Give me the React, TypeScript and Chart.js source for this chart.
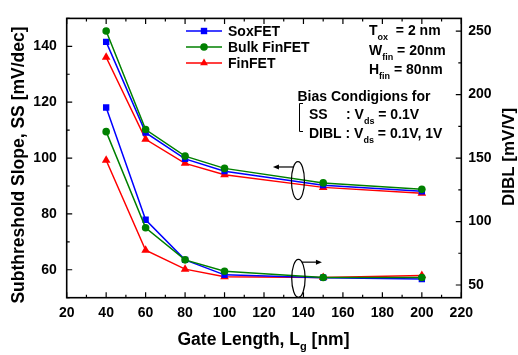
import React, { useEffect, useRef } from "react";
import { Chart, registerables } from "chart.js";

Chart.register(...registerables);

const gateLength = [40, 60, 80, 100, 150, 200];
const ssSoxFET = [141.6, 109.1, 99.7, 95.3, 90.3, 88.1];
const ssBulkFinFET = [145.5, 110.2, 100.7, 96.3, 91.1, 88.8];
const ssFinFET = [136.1, 106.7, 98.1, 94.0, 89.5, 87.4];
const diblSoxFET = [189.8, 101.4, 69.8, 58.0, 55.8, 54.7];
const diblBulkFinFET = [170.8, 95.1, 69.8, 60.8, 55.9, 55.9];
const diblFinFET = [148.3, 77.4, 62.5, 56.5, 55.9, 57.5];

const xTicks = [20, 40, 60, 80, 100, 120, 140, 160, 180, 200, 220];
const ssTicks = [60, 80, 100, 120, 140];
const diblTicks = [50, 100, 150, 200, 250];

const FONT = '"Liberation Sans", Arial, Helvetica, sans-serif';
const BLUE = "#0000ff";
const GREEN = "#008000";
const RED = "#ff0000";

type Part = { t: string; sub?: boolean };

function drawRich(ctx: CanvasRenderingContext2D, x: number, y: number, parts: Part[], size: number, subSize: number, subDrop: number) {
  let cx = x;
  ctx.textAlign = "left";
  ctx.textBaseline = "alphabetic";
  for (const p of parts) {
    ctx.font = `bold ${p.sub ? subSize : size}px ${FONT}`;
    ctx.fillText(p.t, cx, p.sub ? y + subDrop : y);
    cx += ctx.measureText(p.t).width;
  }
  return cx;
}

function measureRich(ctx: CanvasRenderingContext2D, parts: Part[], size: number, subSize: number) {
  let w = 0;
  for (const p of parts) {
    ctx.font = `bold ${p.sub ? subSize : size}px ${FONT}`;
    w += ctx.measureText(p.t).width;
  }
  return w;
}

function drawMarker(ctx: CanvasRenderingContext2D, style: string, x: number, y: number, color: string) {
  ctx.fillStyle = color;
  ctx.beginPath();
  if (style === "rect") {
    const s = 3.2;
    ctx.rect(x - s, y - s, 2 * s, 2 * s);
  } else if (style === "circle") {
    ctx.arc(x, y, 3.8, 0, Math.PI * 2);
  } else {
    const r = 4.5;
    ctx.moveTo(x, y - r);
    ctx.lineTo(x + r * 0.866, y + r * 0.5);
    ctx.lineTo(x - r * 0.866, y + r * 0.5);
    ctx.closePath();
  }
  ctx.fill();
}

const decorPlugin = {
  id: "decor",
  afterDraw(chart: any) {
    const ctx: CanvasRenderingContext2D = chart.ctx;
    const { left, right, top, bottom } = chart.chartArea;
    const xs = chart.scales.x;
    const ys = chart.scales.y;
    const y2 = chart.scales.y2;
    ctx.save();
    ctx.strokeStyle = "#000";
    ctx.fillStyle = "#000";

    // frame
    ctx.lineWidth = 1.6;
    ctx.strokeRect(left, top, right - left, bottom - top);

    // inward ticks
    ctx.lineWidth = 1.2;
    const major = 5.5;
    const minor = 3;
    ctx.beginPath();
    for (let v = 20; v <= 220; v += 10) {
      const px = xs.getPixelForValue(v);
      const len = v % 20 === 0 ? major : minor;
      ctx.moveTo(px, bottom);
      ctx.lineTo(px, bottom - len);
      ctx.moveTo(px, top);
      ctx.lineTo(px, top + len);
    }
    for (let v = 50; v <= 150; v += 10) {
      const py = ys.getPixelForValue(v);
      const len = ssTicks.includes(v) ? major : minor;
      ctx.moveTo(left, py);
      ctx.lineTo(left + len, py);
    }
    for (let v = 50; v <= 250; v += 25) {
      const py = y2.getPixelForValue(v);
      const len = diblTicks.includes(v) ? major : minor;
      ctx.moveTo(right, py);
      ctx.lineTo(right - len, py);
    }
    ctx.stroke();

    // axis titles
    ctx.fillStyle = "#000";
    ctx.save();
    ctx.translate(24, 165);
    ctx.rotate(-Math.PI / 2);
    ctx.font = `bold 17.5px ${FONT}`;
    ctx.textAlign = "center";
    ctx.textBaseline = "alphabetic";
    ctx.fillText("Subthreshold Slope, SS [mV/dec]", 0, 0);
    ctx.restore();

    ctx.save();
    ctx.translate(514, 157);
    ctx.rotate(-Math.PI / 2);
    ctx.font = `bold 17px ${FONT}`;
    ctx.textAlign = "center";
    ctx.textBaseline = "alphabetic";
    ctx.fillText("DIBL [mV/V]", 0, 0);
    ctx.restore();

    const xTitle: Part[] = [{ t: "Gate Length, L" }, { t: "g", sub: true }, { t: " [nm]" }];
    const xw = measureRich(ctx, xTitle, 17.5, 11);
    drawRich(ctx, 263.5 - xw / 2, 345, xTitle, 17.5, 11, 5);

    // legend
    const legend = [
      { label: "SoxFET", color: BLUE, style: "rect" },
      { label: "Bulk FinFET", color: GREEN, style: "circle" },
      { label: "FinFET", color: RED, style: "triangle" },
    ];
    legend.forEach((item, i) => {
      const ly = 31 + i * 16;
      ctx.strokeStyle = item.color;
      ctx.lineWidth = 1.5;
      ctx.beginPath();
      ctx.moveTo(186, ly);
      ctx.lineTo(222, ly);
      ctx.stroke();
      drawMarker(ctx, item.style, 204, ly, item.color);
      ctx.fillStyle = "#000";
      ctx.font = `bold 14px ${FONT}`;
      ctx.textAlign = "left";
      ctx.textBaseline = "middle";
      ctx.fillText(item.label, 228, ly + 1);
    });

    // parameter text
    ctx.fillStyle = "#000";
    drawRich(ctx, 369, 35, [{ t: "T" }, { t: "ox", sub: true }, { t: "  = 2 nm" }], 14, 9, 5);
    drawRich(ctx, 369, 55, [{ t: "W" }, { t: "fin", sub: true }, { t: " = 20nm" }], 14, 9, 5);
    drawRich(ctx, 369, 74, [{ t: "H" }, { t: "fin", sub: true }, { t: " = 80nm" }], 14, 9, 5);

    drawRich(ctx, 297.5, 101, [{ t: "Bias Condigions for" }], 14, 9, 5);
    drawRich(ctx, 309, 119, [{ t: "SS" }], 14, 9, 5);
    drawRich(ctx, 346, 119, [{ t: ": V" }, { t: "ds", sub: true }, { t: " = 0.1V" }], 14, 9, 5);
    drawRich(ctx, 309, 138, [{ t: "DIBL : V" }, { t: "ds", sub: true }, { t: " = 0.1V, 1V" }], 14, 9, 5);

    // bracket
    ctx.strokeStyle = "#000";
    ctx.lineWidth = 1;
    ctx.beginPath();
    ctx.moveTo(303, 103.5);
    ctx.lineTo(299.5, 103.5);
    ctx.lineTo(299.5, 131.5);
    ctx.lineTo(303, 131.5);
    ctx.stroke();

    // ellipses with arrows
    const ex = xs.getPixelForValue(137.2);
    const eyTop = ys.getPixelForValue(91.9);
    const eyBot = y2.getPixelForValue(55.3);
    ctx.lineWidth = 1.2;
    ctx.beginPath();
    ctx.ellipse(ex, eyTop, 6.5, 19, 0, 0, Math.PI * 2);
    ctx.stroke();
    ctx.beginPath();
    ctx.ellipse(ex + 0.5, eyBot, 6.7, 19, 0, 0, Math.PI * 2);
    ctx.stroke();

    const ayTop = ys.getPixelForValue(96.8);
    ctx.beginPath();
    ctx.moveTo(ex - 4, ayTop);
    ctx.lineTo(ex - 20, ayTop);
    ctx.stroke();
    ctx.fillStyle = "#000";
    ctx.beginPath();
    ctx.moveTo(ex - 25, ayTop);
    ctx.lineTo(ex - 19, ayTop - 2.5);
    ctx.lineTo(ex - 19, ayTop + 2.5);
    ctx.closePath();
    ctx.fill();

    const ayBot = y2.getPixelForValue(68.0);
    ctx.beginPath();
    ctx.moveTo(ex + 4, ayBot);
    ctx.lineTo(ex + 19, ayBot);
    ctx.stroke();
    ctx.beginPath();
    ctx.moveTo(ex + 24, ayBot);
    ctx.lineTo(ex + 18, ayBot - 2.5);
    ctx.lineTo(ex + 18, ayBot + 2.5);
    ctx.closePath();
    ctx.fill();

    ctx.restore();
  },
};

function series(values: number[]) {
  return gateLength.map((x, i) => ({ x, y: values[i] }));
}

function makeDataset(values: number[], color: string, style: string, axis: string, order: number) {
  const radius = style === "rect" ? 4.5 : style === "circle" ? 3.8 : 5;
  return {
    data: series(values),
    borderColor: color,
    backgroundColor: color,
    borderWidth: 1.5,
    pointStyle: style,
    pointRadius: radius,
    pointBorderWidth: 0,
    pointBackgroundColor: color,
    pointBorderColor: color,
    yAxisID: axis,
    order,
    tension: 0,
    fill: false,
  };
}

export default function App() {
  const canvasRef = useRef<HTMLCanvasElement | null>(null);

  useEffect(() => {
    if (!canvasRef.current) return;
    const tickFont = { family: FONT, size: 14, weight: "bold" as const };
    const chart = new Chart(canvasRef.current, {
      type: "line",
      data: {
        datasets: [
          makeDataset(ssSoxFET, BLUE, "rect", "y", 1),
          makeDataset(ssBulkFinFET, GREEN, "circle", "y", 0),
          makeDataset(ssFinFET, RED, "triangle", "y", 2),
          makeDataset(diblSoxFET, BLUE, "rect", "y2", 1),
          makeDataset(diblBulkFinFET, GREEN, "circle", "y2", 0),
          makeDataset(diblFinFET, RED, "triangle", "y2", 2),
        ] as any,
      },
      options: {
        animation: false,
        responsive: true,
        maintainAspectRatio: false,
        layout: { padding: { top: 7.3, left: 0, right: 0, bottom: 0 } },
        plugins: { legend: { display: false }, tooltip: { enabled: false } },
        scales: {
          x: {
            type: "linear",
            min: 20,
            max: 220,
            afterBuildTicks: (s: any) => {
              s.ticks = xTicks.map((v) => ({ value: v }));
            },
            afterFit: (s: any) => {
              s.height = 57.3;
            },
            grid: { display: false, drawTicks: false },
            border: { display: false },
            ticks: { color: "#000", font: tickFont, padding: 7, maxRotation: 0, autoSkip: false },
          },
          y: {
            type: "linear",
            position: "left",
            min: 50,
            max: 150,
            afterBuildTicks: (s: any) => {
              s.ticks = ssTicks.map((v) => ({ value: v }));
            },
            afterFit: (s: any) => {
              s.width = 66.7;
            },
            grid: { display: false, drawTicks: false },
            border: { display: false },
            ticks: { color: "#000", font: tickFont, padding: 10 },
          },
          y2: {
            type: "linear",
            position: "right",
            min: 40,
            max: 260,
            afterBuildTicks: (s: any) => {
              s.ticks = diblTicks.map((v) => ({ value: v }));
            },
            afterFit: (s: any) => {
              s.width = 56.7;
            },
            grid: { display: false, drawTicks: false },
            border: { display: false },
            ticks: { color: "#000", font: tickFont, padding: 7 },
          },
        },
      },
      plugins: [decorPlugin],
    } as any);
    return () => chart.destroy();
  }, []);

  return (
    <div style={{ position: "absolute", left: 0, top: 0, width: 518, height: 355, background: "#fff" }}>
      <canvas ref={canvasRef} />
    </div>
  );
}
